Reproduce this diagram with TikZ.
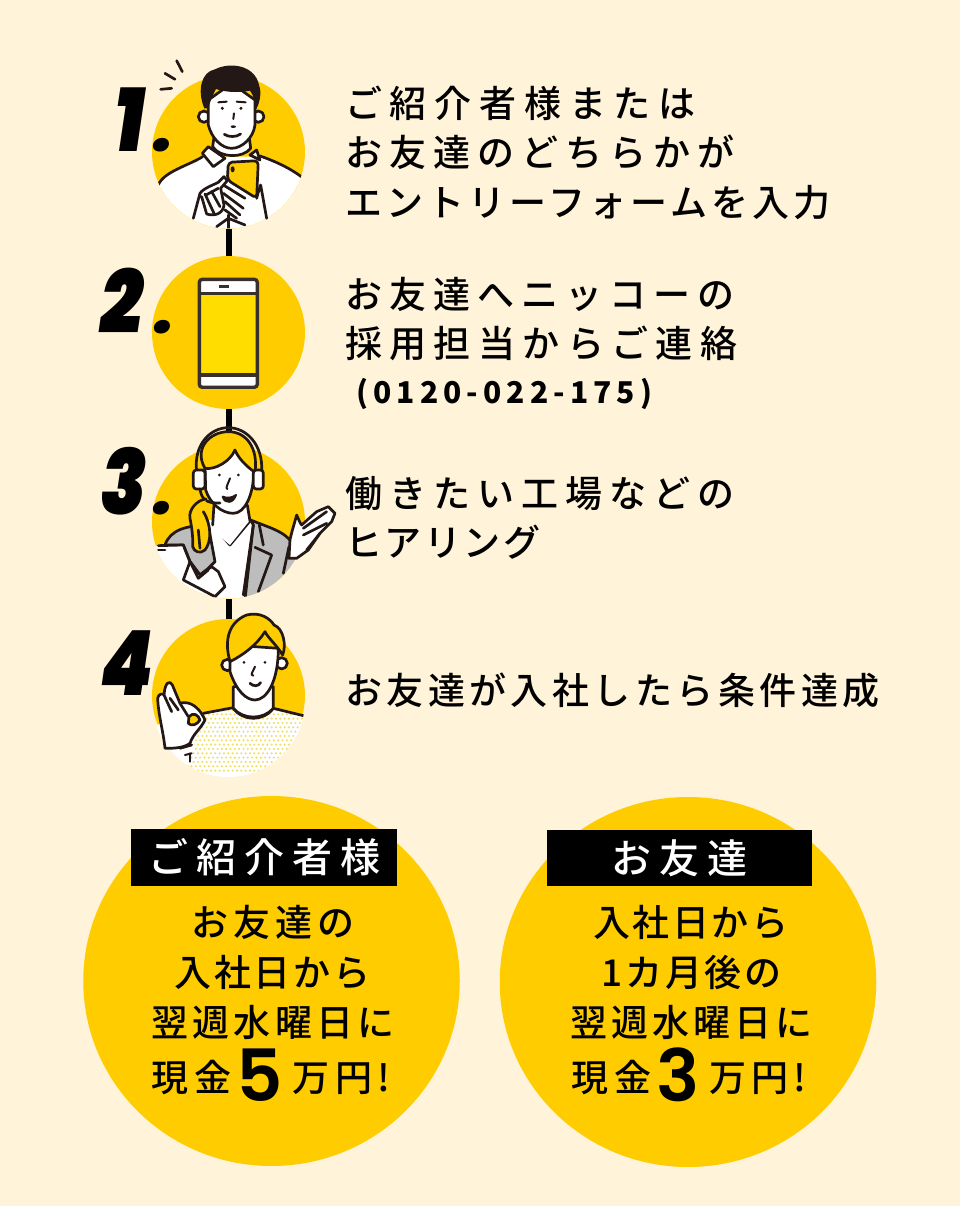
\documentclass[tikz,border=0pt]{standalone}
\usepackage{fontspec}
\setmainfont{Noto Sans CJK JP}
\newfontfamily\midfont{Noto Sans CJK JP Medium}
\newfontfamily\numfont{Poppins Black Italic}
\newfontfamily\bignum{Poppins SemiBold}
\usetikzlibrary{positioning,shapes.geometric}
\definecolor{pagebg}{HTML}{FFF4DA}
\definecolor{sunny}{HTML}{FFCC00}
\definecolor{screeny}{HTML}{FFDD00}
\definecolor{ink}{HTML}{231815}
\definecolor{jacket}{HTML}{BDBDBD}
\definecolor{dotty}{HTML}{EFE06A}
\newcommand{\trk}[2]{{\addfontfeature{LetterSpace=#1}#2}}
\newcommand{\stepnum}[2]{\scalebox{.84}[1]{#1}\kern#2{\fontsize{62}{62}\selectfont .}}
\tikzset{
  smalldisc/.style={circle, fill=sunny, inner sep=0pt, minimum size=153pt},
  bigdisc/.style={ellipse, fill=sunny, inner sep=0pt, minimum width=376.5pt, minimum height=370pt},
  stepline/.style={anchor=west, inner sep=0pt, text=black, text height=32pt, text depth=4pt, font=\midfont\fontsize{37}{37}\selectfont},
  midline/.style={stepline, anchor=center},
  numtext/.style={anchor=base west, inner sep=0pt, text=black, font=\numfont\fontsize{90}{90}\selectfont},
  tagbox/.style={fill=black, text=white, minimum width=265.5pt, minimum height=56.5pt, inner sep=0pt, font=\midfont\fontsize{40}{40}\selectfont},
  art/.style={draw=ink, line width=2.7pt, line cap=round, line join=round},
}
\begin{document}
\begin{tikzpicture}[x=1pt,y=-1pt]
\useasboundingbox (0,0) rectangle (960,1206);
\fill[pagebg] (0,0) rectangle (960,1206);

\node[smalldisc] (circ1) at (228.5,152) {};
\node[smalldisc] (circ2) at (228.5,332.5) {};
\node[smalldisc] (circ3) at (228.5,522) {};
\node[smalldisc] (circ4) at (228.5,695.5) {};
\draw[black, line width=6pt] (circ1) -- (circ2); \draw[black, line width=6pt] (circ2) -- (circ3); \draw[black, line width=6pt] (circ3) -- (circ4);

\node[numtext] (num1) at (114,152) {\stepnum{1}{9pt}};
\node[numtext] (num2) at (100,333) {\stepnum{2}{12pt}};
\node[numtext] (num3) at (100,514) {\stepnum{3}{7pt}};
\node[numtext] (num4) at (100,695) {\scalebox{.84}[1]{4}};

% man with phone
\begin{scope}[xshift=90pt,yshift=-50pt,x=.3333pt,y=-.3333pt]
  \begin{scope}
    \clip (415.5,306) circle (229.5);
    \fill[white] (195,415) .. controls (225,365) and (300,345) .. (338,320) -- (510,320) .. controls (560,335) and (610,360) .. (640,385) -- (640,560) -- (190,560) -- cycle;
    \draw[art] (205,405) .. controls (220,365) and (300,345) .. (338,320);
    \draw[art] (510,318) .. controls (560,335) and (610,360) .. (640,385);
    \draw[art] (415,495) -- (415,545); \draw[art] (380,530) -- (415,505) -- (465,525);
  \end{scope}
  \draw[art] (212,118) -- (245,115); \draw[art] (225,70) -- (255,88); \draw[art] (260,32) -- (277,65);
  \filldraw[art, fill=white] (342,200) circle (17); \filldraw[art, fill=white] (505,200) circle (17);
  \filldraw[art, fill=white] (372,262) -- (368,290) .. controls (390,325) and (460,325) .. (482,295) -- (478,262) -- cycle;
  \filldraw[art, fill=white] (355,150) -- (355,225) .. controls (365,265) and (395,295) .. (425,295) .. controls (455,295) and (490,265) .. (495,225) -- (495,150) -- (425,100) -- cycle;
  \fill[ink] (343,175) .. controls (320,120) and (335,65) .. (375,58) .. controls (420,35) and (495,45) .. (507,105) .. controls (517,130) and (507,165) .. (497,180) .. controls (497,155) and (490,135) .. (480,122) .. controls (440,130) and (400,125) .. (378,117) .. controls (368,135) and (360,155) .. (355,175) -- cycle;
  \draw[art, line width=2pt] (385,157) -- (410,155); \draw[art, line width=2pt] (440,155) -- (467,157);
  \fill[ink] (397,175) circle (5); \fill[ink] (453,175) circle (5);
  \draw[art, line width=2pt] (432,190) -- (430,207); \fill[ink] (430,230) ellipse (8 and 4);
  \draw[art] (403,253) .. controls (415,262) and (440,262) .. (452,252);
  \filldraw[art, fill=white] (337,310) -- (355,290) -- (405,325) -- (370,350) -- cycle;
  \filldraw[art, fill=white] (480,315) -- (500,300) -- (510,330) -- cycle;
  \fill[white] (410,380) -- (500,440) -- (516,397) -- (532,505) -- (465,505) -- (395,480) -- cycle;
  \filldraw[art, fill=sunny, rounded corners=4pt] (415,337) -- (505,332) -- (500,445) -- (412,390) -- cycle;
  \fill[ink] (428,358) ellipse (6 and 9);
  \draw[art] (500,445) .. controls (505,425) and (510,410) .. (512,405) -- (530,505);
  \draw[art] (400,405) -- (465,445); \draw[art] (400,430) -- (460,475); \draw[art] (405,455) -- (450,495); \draw[art] (405,480) -- (440,505);
  \filldraw[art, fill=white] (310,505) -- (330,430) .. controls (340,415) and (370,405) .. (385,397) -- (402,380) -- (412,392) -- (392,415) -- (402,465) .. controls (400,490) and (375,500) .. (350,492) -- (335,440);
  \draw[art] (345,432) -- (372,490); \draw[art] (365,425) -- (390,470); \draw[art] (348,435) -- (385,415);
\end{scope}

% phone
\begin{scope}[xshift=90pt,yshift=-50pt,x=.3333pt,y=-.3333pt]
  \fill[white, rounded corners=3pt] (328,688) rectangle (502,1012);
  \fill[screeny] (328,730) rectangle (502,975);
  \draw[ink!90!white, line width=3.4pt, rounded corners=3pt] (328,688) rectangle (502,1012);
  \draw[ink!90!white, line width=3.2pt] (328,730) -- (502,730); \draw[ink!90!white, line width=3.2pt] (328,975) -- (502,975);
  \draw[ink!90!white, line width=2.4pt] (388,710) -- (417,710);
\end{scope}

% operator
\begin{scope}[xshift=90pt,yshift=-415pt,x=.3333pt,y=-.3333pt]
  \begin{scope}
    \clip (415.5,321) circle (229.5);
    \fill[white] (180,600) -- (180,400) -- (225,385) .. controls (240,345) and (310,330) .. (360,315) -- (480,315) -- (650,440) -- (650,600) -- cycle;
    \filldraw[art, fill=jacket] (225,390) .. controls (240,345) and (290,330) .. (355,332) -- (375,440) -- (355,460) -- (330,480) -- (300,440) -- (280,390) -- cycle;
    \filldraw[art, fill=jacket] (490,330) -- (482,315) .. controls (530,335) and (570,345) .. (595,370) -- (650,440) -- (650,600) -- (460,600) -- cycle;
    \draw[art] (508,330) -- (520,390); \draw[art] (495,397) -- (545,420) -- (505,530); \draw[art] (580,475) -- (597,395);
    \draw[art] (490,330) -- (460,540);
    \fill[white] (195,392) rectangle (280,560);
    \draw[art] (205,392) -- (280,390) -- (300,440);
    \draw[art] (205,405) -- (225,405);
    \filldraw[art, fill=white] (300,440) -- (280,495) -- (375,545) -- (405,515) -- (385,470) -- (365,455) -- (330,480) -- cycle;
    \draw[art] (300,440) -- (325,490) -- (355,465);
    \draw[art] (370,335) -- (420,390) -- (480,318);
  \end{scope}
  \fill[white] (372,262) -- (365,345) -- (420,390) -- (478,318) -- (475,262) -- cycle;
  \draw[art] (372,270) -- (368,330); \draw[art] (472,270) -- (480,318);
  \filldraw[art, fill=white] (345,150) -- (347,225) .. controls (360,265) and (395,295) .. (430,295) .. controls (465,295) and (490,240) .. (492,170) -- (440,90) -- cycle;
  \filldraw[art, fill=sunny] (345,160) .. controls (310,100) and (360,50) .. (415,50) .. controls (470,50) and (505,100) .. (495,172) .. controls (470,155) and (445,130) .. (435,105) .. controls (420,140) and (375,165) .. (345,160) -- cycle;
  \draw[art] (320,170) .. controls (310,90) and (360,38) .. (415,38) .. controls (470,38) and (520,90) .. (515,170);
  \filldraw[art, fill=white, rounded corners=3pt] (310,165) rectangle (345,222);
  \filldraw[art, fill=white, rounded corners=3pt] (490,165) rectangle (520,222);
  \fill[ink] (388,180) circle (4.5); \fill[ink] (445,180) circle (4.5);
  \draw[art, line width=2pt] (420,190) .. controls (415,205) and (405,220) .. (412,222);
  \filldraw[art, line width=2pt, fill=ink] (398,245) .. controls (410,250) and (425,250) .. (438,240) .. controls (430,265) and (405,268) .. (398,245) -- cycle;
  \draw[art] (330,222) .. controls (335,255) and (350,265) .. (390,264);
  \filldraw[art, fill=sunny] (348,252) .. controls (320,255) and (295,285) .. (300,310) .. controls (305,335) and (310,370) .. (308,395) .. controls (312,410) and (330,418) .. (345,405) .. controls (365,380) and (365,330) .. (340,290);
  \draw[art] (325,345) -- (330,400);
  \filldraw[art, fill=white] (600,375) .. controls (605,350) and (615,320) .. (620,300) .. controls (625,310) and (630,325) .. (635,330) -- (680,290) -- (715,275) -- (735,295) -- (725,320) -- (690,355) -- (655,405) -- (620,430) -- (597,430) -- cycle;
  \draw[art] (640,340) -- (710,290); \draw[art] (640,360) -- (710,325); \draw[art] (650,405) -- (690,355);
\end{scope}

% man with ok sign
\begin{scope}[xshift=90pt,yshift=-415pt,x=.3333pt,y=-.3333pt]
  \begin{scope}
    \clip (415.5,856.5) circle (229.5);
    \fill[white] (200,930) -- (340,895) -- (430,878) .. controls (460,920) and (520,920) .. (550,878) -- (650,905) -- (650,1100) -- (180,1100) -- cycle;
    \begin{scope}
      \clip (340,895) -- (430,878) .. controls (460,920) and (520,920) .. (550,878) -- (650,905) -- (650,1100) -- (280,1100) -- cycle;
      \foreach \yy in {0,...,14} {
        \pgfmathsetmacro{\xoff}{mod(\yy,2)*6.5}
        \foreach \xx in {0,...,27} \fill[dotty] (285+\xx*13+\xoff,885+\yy*13) circle (3.6);
      }
    \end{scope}
    \draw[art] (340,895) -- (430,878); \draw[art] (550,880) -- (640,902);
    \draw[art] (430,880) .. controls (460,920) and (520,920) .. (550,880);
  \end{scope}
  \filldraw[art, fill=white] (412,750) circle (17); \filldraw[art, fill=white] (575,745) circle (17);
  \filldraw[art, fill=white] (430,815) -- (430,880) .. controls (460,915) and (520,915) .. (550,880) -- (550,815) -- cycle;
  \filldraw[art, fill=white] (420,690) -- (420,770) .. controls (440,830) and (470,855) .. (495,855) .. controls (530,855) and (565,800) .. (565,700) -- cycle;
  \filldraw[art, fill=sunny] (420,740) .. controls (400,670) and (420,620) .. (470,600) .. controls (510,590) and (540,610) .. (552,630) .. controls (580,640) and (590,690) .. (578,720) .. controls (560,690) and (535,670) .. (525,650) .. controls (500,690) and (460,720) .. (420,740) -- cycle;
  \fill[ink] (462,742) circle (4.5); \fill[ink] (525,742) circle (4.5);
  \draw[art, line width=2pt] (495,755) .. controls (490,770) and (478,780) .. (490,782);
  \draw[art] (480,805) .. controls (490,815) and (505,815) .. (512,803);
  \filldraw[art, fill=white] (225,1000) .. controls (220,950) and (205,900) .. (203,850) .. controls (205,835) and (220,835) .. (222,840) .. controls (225,800) and (240,795) .. (247,810) -- (270,865) .. controls (285,860) and (320,860) .. (345,915) .. controls (330,945) and (310,955) .. (300,985) .. controls (280,1000) and (250,1000) .. (225,1000) -- cycle;
  \filldraw[art, fill=sunny] (297,905) .. controls (310,890) and (325,900) .. (330,915) .. controls (320,930) and (305,935) .. (295,925) -- cycle;
  \draw[art] (222,840) -- (245,890); \draw[art] (240,850) -- (265,885); \draw[art] (270,865) -- (295,905);
  \draw[art] (270,1000) -- (305,990); \draw[art, line width=2pt] (285,1020) -- (305,1015); \draw[art, line width=2pt] (300,1015) -- (300,1040);
\end{scope}

% step texts
\node[stepline] (s1a) at (345,104) {\trk{21}{ご紹介者様または}};
\node[stepline] (s1b) at (345,153) {\trk{19}{お友達のどちらかが}};
\node[stepline] (s1c) at (345,203) {\trk{11}{エントリーフォームを入力}};
\node[stepline] (s2a) at (345,294) {\trk{19}{お友達へニッコーの}};
\node[stepline] (s2b) at (345,343) {\trk{20}{採用担当からご連絡}};
\node[stepline, font=\normalfont\bfseries\fontsize{30}{30}\selectfont] (s2c) at (356,389) {\trk{17}{(0120-022-175)}};
\node[stepline] (s3a) at (345,493) {\trk{19}{働きたい工場などの}};
\node[stepline] (s3b) at (345,542) {\trk{7}{ヒアリング}};
\node[stepline] (s4a) at (345,690) {\trk{12}{お友達が入社したら条件達成}};

% reward discs
\node[bigdisc] (disc1) at (271.5,981) {};
\node[bigdisc] (disc2) at (688,982) {};
\node[tagbox] (tag1) at (264,857.5) {\trk{20}{ご紹介者様}};
\node[tagbox] (tag2) at (679.5,858) {\trk{20}{お友達}};

\node[midline] (a1) at (273,922) {\trk{13}{お友達の}};
\node[midline] (a2) at (272.5,972) {\trk{7}{入社日から}};
\node[midline] (a3) at (273,1022) {\trk{11}{翌週水曜日に}};
\node[midline] (a4) at (270.7,1077) {\trk{16}{現金}\kern5pt\raisebox{-10pt}{\bignum\fontsize{72}{72}\selectfont 5}\kern10pt\trk{14}{万円!}};
\node[midline] (b1) at (690.7,922) {\trk{7}{入社日から}};
\node[midline] (b2) at (691.7,972) {\trk{7}{1カ月後の}};
\node[midline] (b3) at (691.7,1022) {\trk{11}{翌週水曜日に}};
\node[midline] (b4) at (689,1077) {\trk{16}{現金}\kern5pt\raisebox{-10pt}{\bignum\fontsize{72}{72}\selectfont 3}\kern10pt\trk{14}{万円!}};
\end{tikzpicture}
\end{document}
